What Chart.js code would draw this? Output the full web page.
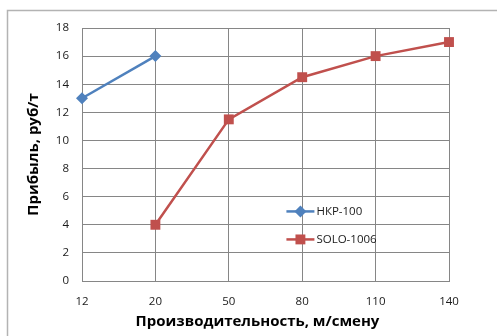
<!DOCTYPE html>
<html>
<head>
<meta charset="utf-8">
<script src="https://cdn.jsdelivr.net/npm/chart.js@4/dist/chart.umd.min.js"></script>
<style>
  html, body { margin: 0; padding: 0; background: #fff; }
  #wrap { width: 497px; height: 336px; }
</style>
</head>
<body>
<div id="wrap"><canvas id="c" width="497" height="336"></canvas></div>
<script>
// Productivity, m/shift (category axis)
const categories = ['12', '20', '50', '80', '110', '140'];
// Profit, rub/t for each machine
const hkpValues  = [13, 16, null, null, null, null];
const soloValues = [null, 4, 11.5, 14.5, 16, 17];
const seriesNames = ['НКР-100', 'SOLO-1006'];
const yTitle = 'Прибыль, руб/т';
const xTitle = 'Производительность, м/смену';

const FONT = '"Open Sans", "Liberation Sans", sans-serif';
const GRID = '#868686';

// Light frame around the whole chart
const framePlugin = {
  id: 'frame',
  beforeDraw(chart) {
    const ctx = chart.ctx;
    ctx.save();
    ctx.strokeStyle = '#b3b3b3';
    ctx.lineWidth = 1.5;
    ctx.strokeRect(7.5, 10.5, 600, 400);
    ctx.restore();
  }
};

// Horizontal axis title, centred slightly left of the plot centre
const xTitlePlugin = {
  id: 'xTitle',
  afterDraw(chart) {
    const ctx = chart.ctx;
    const area = chart.chartArea;
    ctx.save();
    ctx.fillStyle = '#000';
    ctx.font = 'bold 15px ' + FONT;
    ctx.textAlign = 'center';
    ctx.textBaseline = 'middle';
    ctx.fillText(xTitle, (area.left + area.right) / 2 - 8, chart.height - 14);
    ctx.restore();
  }
};

// Legend drawn inside the plot area
const innerLegend = {
  id: 'innerLegend',
  afterDatasetsDraw(chart) {
    const ctx = chart.ctx;
    const area = chart.chartArea;
    const x0 = area.left + (area.right - area.left) * 0.557;
    const y0 = area.top + (area.bottom - area.top) * 0.725;
    const gap = 28;
    chart.data.datasets.forEach((ds, i) => {
      const y = y0 + i * gap;
      ctx.save();
      ctx.strokeStyle = ds.borderColor;
      ctx.lineWidth = 2.5;
      ctx.beginPath();
      ctx.moveTo(x0, y);
      ctx.lineTo(x0 + 28, y);
      ctx.stroke();
      ctx.fillStyle = ds.pointBackgroundColor;
      Chart.helpers.drawPoint(ctx, {
        pointStyle: ds.pointStyle, radius: ds.pointRadius, rotation: 0, borderWidth: 0
      }, x0 + 14, y);
      ctx.fillStyle = '#1a1a1a';
      ctx.font = '11.5px ' + FONT;
      ctx.textBaseline = 'middle';
      ctx.textAlign = 'left';
      ctx.fillText(ds.label, x0 + 30, y + 0.5);
      ctx.restore();
    });
  }
};

new Chart(document.getElementById('c'), {
  type: 'line',
  data: {
    labels: categories,
    datasets: [
      {
        label: seriesNames[0],
        data: hkpValues,
        borderColor: '#4F81BD',
        backgroundColor: '#4F81BD',
        pointBackgroundColor: '#4F81BD',
        pointBorderColor: '#4F81BD',
        pointStyle: 'rectRot',
        pointRadius: 6,
        pointBorderWidth: 0,
        borderWidth: 2.5,
        tension: 0,
        spanGaps: false
      },
      {
        label: seriesNames[1],
        data: soloValues,
        borderColor: '#C0504D',
        backgroundColor: '#C0504D',
        pointBackgroundColor: '#C0504D',
        pointBorderColor: '#C0504D',
        pointStyle: 'rect',
        pointRadius: 7,
        pointBorderWidth: 0,
        borderWidth: 2.5,
        tension: 0,
        spanGaps: false
      }
    ]
  },
  options: {
    responsive: false,
    animation: false,
    devicePixelRatio: 1,
    layout: { padding: { left: 0, top: 28, right: 48, bottom: 0 } },
    plugins: {
      legend: { display: false },
      tooltip: { enabled: false }
    },
    scales: {
      x: {
        type: 'category',
        offset: false,
        grid: { color: GRID, lineWidth: 1, drawTicks: false },
        border: { color: GRID, width: 1 },
        ticks: { color: '#1a1a1a', font: { family: FONT, size: 11.5 }, padding: 14, maxRotation: 0, autoSkip: false },
        afterFit(scale) { scale.height = 55; }
      },
      y: {
        min: 0, max: 18,
        grid: { color: GRID, lineWidth: 1, drawTicks: false },
        border: { color: GRID, width: 1 },
        ticks: { stepSize: 2, color: '#1a1a1a', font: { family: FONT, size: 11.5 }, padding: 13 },
        title: {
          display: true, text: yTitle, color: '#000',
          font: { family: FONT, size: 15, weight: 'bold' },
          padding: { top: 25, bottom: 0 }
        },
        afterFit(scale) { scale.width = 82; }
      }
    }
  },
  plugins: [framePlugin, xTitlePlugin, innerLegend]
});
</script>
</body>
</html>
